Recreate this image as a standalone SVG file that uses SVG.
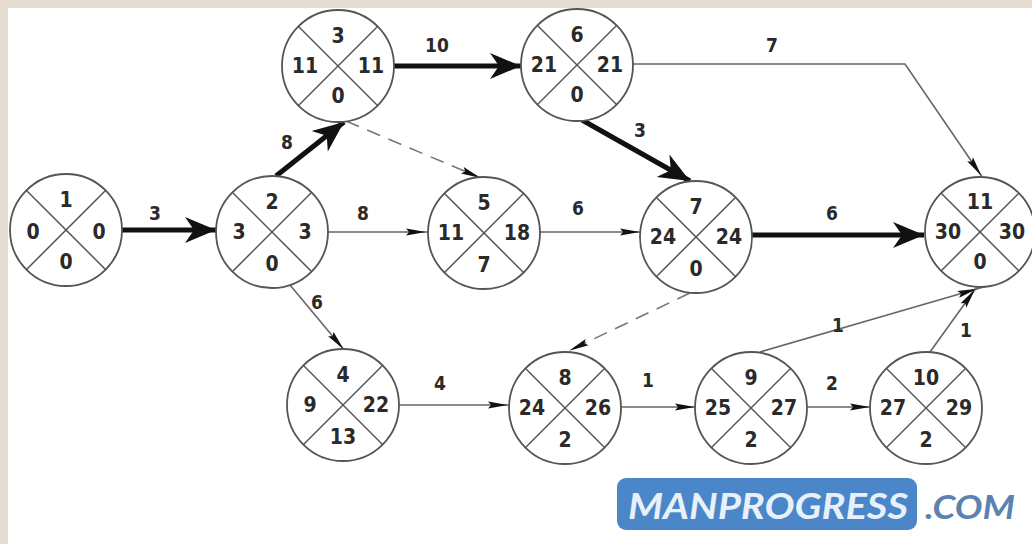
<svg xmlns="http://www.w3.org/2000/svg" width="1032" height="544" viewBox="0 0 1032 544">
<style>
.nc{fill:#fff;stroke:#555;stroke-width:1.8}
.nx{stroke:#555;stroke-width:1.5}
.nt{font-family:"DejaVu Sans Condensed","DejaVu Sans","Liberation Sans",sans-serif;font-weight:bold;font-size:21px;fill:#2a2a2a;text-anchor:middle;dominant-baseline:central}
.el{font-family:"DejaVu Sans Condensed","DejaVu Sans","Liberation Sans",sans-serif;font-weight:bold;font-size:19px;fill:#2a2a2a;text-anchor:middle;dominant-baseline:central}
.thick{stroke:#111;stroke-width:5;fill:none;marker-end:url(#big)}
.thin{stroke:#666;stroke-width:1.6;fill:none;marker-end:url(#small)}
.dash{stroke:#777;stroke-width:1.6;fill:none;stroke-dasharray:14 9;marker-end:url(#small)}
</style>
<defs>
<marker id="big" markerUnits="userSpaceOnUse" markerWidth="32" markerHeight="28" refX="31" refY="14" orient="auto" overflow="visible">
<path d="M0,1 L31,14 L0,27 L9,14 z" fill="#111"/>
</marker>
<marker id="small" markerUnits="userSpaceOnUse" markerWidth="22" markerHeight="8" refX="30" refY="4" orient="auto" overflow="visible">
<path d="M0,0.5 L20,4 L0,7.5 L3,4 z" fill="#111"/>
</marker>
</defs>
<rect x="0" y="0" width="1032" height="544" fill="#fff"/>
<rect x="0" y="0" width="1032" height="8" fill="#e5ddd2"/>
<rect x="0" y="0" width="8" height="544" fill="#e5ddd2"/>

<g id="connectors">
<line class="thick" x1="122" y1="230" x2="216" y2="230"/>
<line class="thick" x1="276" y1="176" x2="344" y2="122"/>
<line class="thick" x1="394" y1="66" x2="521" y2="66"/>
<line class="dash" x1="346" y1="121" x2="490" y2="182"/>
<line class="thin" x1="328" y1="232" x2="436" y2="232"/>
<line class="thin" x1="540" y1="232" x2="650" y2="232"/>
<line class="thick" x1="582" y1="120" x2="690" y2="181"/>
<polyline class="thin" points="633,64 905,64 987,184"/>
<line class="thick" x1="752" y1="235" x2="924" y2="235"/>
<line class="dash" x1="690" y1="293" x2="560" y2="355"/>
<line class="thin" x1="290" y1="285" x2="350" y2="357"/>
<line class="thin" x1="399" y1="405" x2="518" y2="405"/>
<line class="thin" x1="621" y1="407" x2="705" y2="407"/>
<line class="thin" x1="807" y1="407" x2="880" y2="407"/>
<line class="thin" x1="760" y1="352" x2="987" y2="286"/>
<line class="thin" x1="930" y1="352" x2="981" y2="281"/>
<text class="el" x="155" y="213">3</text>
<text class="el" x="287" y="142">8</text>
<text class="el" x="437" y="45">10</text>
<text class="el" x="363" y="213">8</text>
<text class="el" x="317" y="302">6</text>
<text class="el" x="578" y="208">6</text>
<text class="el" x="640" y="130">3</text>
<text class="el" x="772" y="45">7</text>
<text class="el" x="832" y="213">6</text>
<text class="el" x="440" y="383">4</text>
<text class="el" x="648" y="380">1</text>
<text class="el" x="832" y="383">2</text>
<text class="el" x="838" y="325">1</text>
<text class="el" x="966" y="330">1</text>
</g>

<g id="n1" transform="translate(66,230)"><circle class="nc" r="56"/><line class="nx" x1="-40" y1="-40" x2="40" y2="40"/><line class="nx" x1="40" y1="-40" x2="-40" y2="40"/><text class="nt" y="-30">1</text><text class="nt" x="-33" y="2">0</text><text class="nt" x="33" y="2">0</text><text class="nt" y="32">0</text></g>
<g id="n2" transform="translate(272,232)"><circle class="nc" r="56"/><line class="nx" x1="-40" y1="-40" x2="40" y2="40"/><line class="nx" x1="40" y1="-40" x2="-40" y2="40"/><text class="nt" y="-30">2</text><text class="nt" x="-33" y="0">3</text><text class="nt" x="33" y="0">3</text><text class="nt" y="32">0</text></g>
<g id="n3" transform="translate(338,66)"><circle class="nc" r="56"/><line class="nx" x1="-40" y1="-40" x2="40" y2="40"/><line class="nx" x1="40" y1="-40" x2="-40" y2="40"/><text class="nt" y="-30">3</text><text class="nt" x="-33" y="0">11</text><text class="nt" x="33" y="0">11</text><text class="nt" y="30">0</text></g>
<g id="n4" transform="translate(343,405)"><circle class="nc" r="56"/><line class="nx" x1="-40" y1="-40" x2="40" y2="40"/><line class="nx" x1="40" y1="-40" x2="-40" y2="40"/><text class="nt" y="-30">4</text><text class="nt" x="-33" y="0">9</text><text class="nt" x="33" y="0">22</text><text class="nt" y="32">13</text></g>
<g id="n5" transform="translate(484,233)"><circle class="nc" r="56"/><line class="nx" x1="-40" y1="-40" x2="40" y2="40"/><line class="nx" x1="40" y1="-40" x2="-40" y2="40"/><text class="nt" y="-30">5</text><text class="nt" x="-33" y="0">11</text><text class="nt" x="33" y="0">18</text><text class="nt" y="32">7</text></g>
<g id="n6" transform="translate(577,65)"><circle class="nc" r="56"/><line class="nx" x1="-40" y1="-40" x2="40" y2="40"/><line class="nx" x1="40" y1="-40" x2="-40" y2="40"/><text class="nt" y="-30">6</text><text class="nt" x="-33" y="0">21</text><text class="nt" x="33" y="0">21</text><text class="nt" y="30">0</text></g>
<g id="n7" transform="translate(696,237)"><circle class="nc" r="56"/><line class="nx" x1="-40" y1="-40" x2="40" y2="40"/><line class="nx" x1="40" y1="-40" x2="-40" y2="40"/><text class="nt" y="-30">7</text><text class="nt" x="-33" y="0">24</text><text class="nt" x="33" y="0">24</text><text class="nt" y="32">0</text></g>
<g id="n8" transform="translate(565,408)"><circle class="nc" r="56"/><line class="nx" x1="-40" y1="-40" x2="40" y2="40"/><line class="nx" x1="40" y1="-40" x2="-40" y2="40"/><text class="nt" y="-30">8</text><text class="nt" x="-33" y="0">24</text><text class="nt" x="33" y="0">26</text><text class="nt" y="32">2</text></g>
<g id="n9" transform="translate(751,408)"><circle class="nc" r="56"/><line class="nx" x1="-40" y1="-40" x2="40" y2="40"/><line class="nx" x1="40" y1="-40" x2="-40" y2="40"/><text class="nt" y="-30">9</text><text class="nt" x="-33" y="0">25</text><text class="nt" x="33" y="0">27</text><text class="nt" y="32">2</text></g>
<g id="n10" transform="translate(926,408)"><circle class="nc" r="56"/><line class="nx" x1="-40" y1="-40" x2="40" y2="40"/><line class="nx" x1="40" y1="-40" x2="-40" y2="40"/><text class="nt" y="-30">10</text><text class="nt" x="-33" y="0">27</text><text class="nt" x="33" y="0">29</text><text class="nt" y="32">2</text></g>
<g id="n11" transform="translate(980,232)"><circle class="nc" r="55"/><line class="nx" x1="-39" y1="-39" x2="39" y2="39"/><line class="nx" x1="39" y1="-39" x2="-39" y2="39"/><text class="nt" y="-30">11</text><text class="nt" x="-32" y="0">30</text><text class="nt" x="32" y="0">30</text><text class="nt" y="30">0</text></g>

<g id="watermark">
<rect x="617" y="478" width="300" height="52" rx="9" fill="#4a86c8"/>
<text x="628" y="505" textLength="280" lengthAdjust="spacingAndGlyphs" font-family="Lato, 'Liberation Sans', sans-serif" font-style="italic" font-weight="bold" font-size="36" fill="#e8f0fa" dominant-baseline="central">MANPROGRESS</text>
<text x="925" y="506" textLength="90" lengthAdjust="spacingAndGlyphs" font-family="Lato, 'Liberation Sans', sans-serif" font-style="italic" font-weight="bold" font-size="32" fill="#5b82b0" dominant-baseline="central">.COM</text>
</g>
</svg>
